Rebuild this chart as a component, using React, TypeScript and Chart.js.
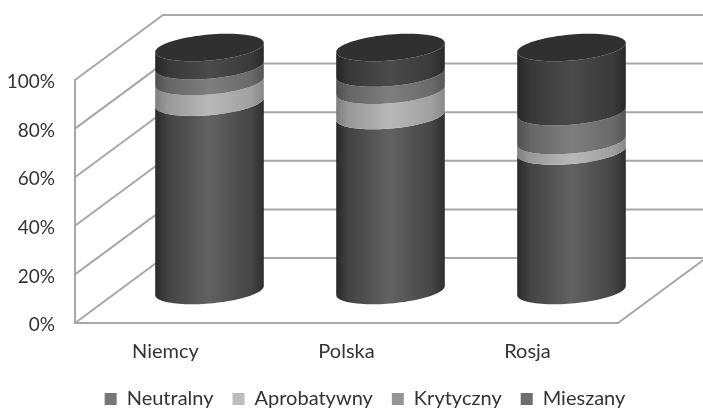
import React, { useEffect, useRef } from "react";
import { Chart, registerables } from "chart.js";

Chart.register(...registerables);

const categories = ["Niemcy", "Polska", "Rosja"];
const neutralny = [77.5, 72, 57.4];
const aprobatywny = [8.5, 10.4, 4.3];
const krytyczny = [6.5, 7.1, 11.9];
const mieszany = [7.5, 10.5, 26.4];

const legendColors = ["#77777b", "#bcbdc0", "#939598", "#6d6e71"];
const bodyShades = [
  ["#2a2a2a", "#434343", "#626262", "#454545", "#2e2e2e"],
  ["#808080", "#999999", "#b8b8b8", "#a0a0a0", "#888888"],
  ["#505050", "#666666", "#7e7e7e", "#6a6a6a", "#555555"],
  ["#262626", "#383838", "#4a4a4a", "#3a3a3a", "#2a2a2a"],
];
const capColor = "#303030";
const wallColor = "#a8a8a8";
const DX = 88;
const DY = -65;
const RY = 13;
const SKEW = 4.5;

function frontArc(ctx: CanvasRenderingContext2D, cx: number, cy: number, a: number, reverse: boolean) {
  const steps = 48;
  for (let i = 0; i <= steps; i++) {
    const f = reverse ? i / steps : 1 - i / steps;
    const t = f * Math.PI;
    ctx.lineTo(cx + a * Math.cos(t), cy + RY * Math.sin(t) - SKEW * Math.cos(t));
  }
}

const cylinderPlugin = {
  id: "cylinder3d",
  afterLayout(chart: any) {
    const lg = chart.legend;
    const shift = 365 - (lg.left + lg.right) / 2;
    lg.left += shift;
    lg.right += shift;
    lg.top = 399 - lg.options.labels.padding - lg.options.labels.font.size / 2;
    chart.scales.x.bottom = 385;
  },
  beforeDatasetsDraw(chart: any) {
    const ctx: CanvasRenderingContext2D = chart.ctx;
    const { left, right, bottom } = chart.chartArea;
    const yScale = chart.scales.y;
    ctx.save();
    ctx.strokeStyle = wallColor;
    ctx.lineWidth = 2;
    for (const tick of yScale.ticks) {
      const y = yScale.getPixelForValue(tick.value);
      ctx.beginPath();
      ctx.moveTo(left, y);
      ctx.lineTo(left + DX, y + DY);
      ctx.lineTo(right + DX, y + DY);
      ctx.stroke();
    }
    ctx.beginPath();
    ctx.moveTo(right, bottom);
    ctx.lineTo(right + DX, bottom + DY);
    ctx.stroke();

    const n = chart.data.labels.length;
    for (let i = 0; i < n; i++) {
      let lastTop = 0;
      let cx = 0;
      let a = 0;
      chart.data.datasets.forEach((_: any, d: number) => {
        const el = chart.getDatasetMeta(d).data[i];
        a = el.width / 2;
        cx = el.x + DX / 2;
        const yBase = el.base + DY / 2;
        const yTop = el.y + DY / 2;
        lastTop = yTop;
        const g = ctx.createLinearGradient(cx - a, 0, cx + a, 0);
        const s = bodyShades[d];
        g.addColorStop(0, s[0]);
        g.addColorStop(0.12, s[1]);
        g.addColorStop(0.5, s[2]);
        g.addColorStop(0.88, s[3]);
        g.addColorStop(1, s[4]);
        ctx.fillStyle = g;
        ctx.beginPath();
        frontArc(ctx, cx, yBase, a, true);
        frontArc(ctx, cx, yTop, a, false);
        ctx.closePath();
        ctx.fill();
      });
      ctx.fillStyle = capColor;
      ctx.beginPath();
      const steps = 96;
      for (let k = 0; k <= steps; k++) {
        const t = (k / steps) * 2 * Math.PI;
        ctx.lineTo(cx + a * Math.cos(t), lastTop + RY * Math.sin(t) - SKEW * Math.cos(t));
      }
      ctx.closePath();
      ctx.fill();
    }
    ctx.restore();
  },
  beforeDatasetDraw() {
    return false;
  },
};

export default function App() {
  const ref = useRef<HTMLCanvasElement>(null);
  useEffect(() => {
    const series = [
      ["Neutralny", neutralny],
      ["Aprobatywny", aprobatywny],
      ["Krytyczny", krytyczny],
      ["Mieszany", mieszany],
    ] as const;
    const font = { family: "Lato", size: 20 };
    const chart = new Chart(ref.current!, {
      type: "bar",
      data: {
        labels: categories,
        datasets: series.map(([label, data], i) => ({
          label,
          data: [...data],
          backgroundColor: legendColors[i],
          borderWidth: 0,
          barPercentage: 0.6,
          categoryPercentage: 1,
        })),
      },
      options: {
        responsive: false,
        animation: false,
        layout: { padding: { top: 80, right: 85, left: 0, bottom: 0 } },
        plugins: {
          title: { display: false },
          tooltip: { enabled: false },
          legend: {
            display: true,
            position: "bottom",
            labels: { boxWidth: 12, boxHeight: 12, padding: 19, color: "#333333", font },
          },
        },
        scales: {
          x: {
            stacked: true,
            grid: { display: false, drawTicks: false },
            border: { display: true, color: wallColor, width: 2 },
            ticks: { color: "#333333", font, padding: 17, maxRotation: 0 },
            afterFit(s: any) {
              s.height = 38;
            },
          },
          y: {
            stacked: true,
            min: 0,
            max: 100,
            grid: { display: false, drawTicks: false },
            border: { display: true, color: wallColor, width: 2 },
            ticks: { stepSize: 20, color: "#333333", font: { family: "Lato", size: 19 }, padding: 20, labelOffset: 2, callback: (v: any) => v + "%" },
            afterFit(s: any) {
              s.width = 75;
            },
          },
        },
      },
      plugins: [cylinderPlugin],
    });
    return () => chart.destroy();
  }, []);
  return (
    <canvas
      ref={ref}
      width={703}
      height={410}
      style={{ position: "fixed", left: 0, top: 0, width: 703, height: 410 }}
    />
  );
}
